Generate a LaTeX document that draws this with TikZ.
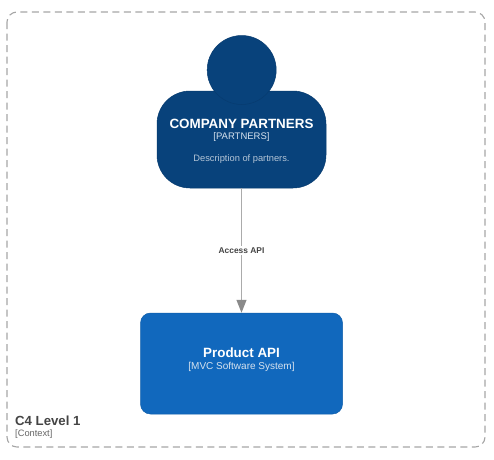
\documentclass[tikz,border=0pt]{standalone}
\usepackage{fontspec}
\setmainfont{Liberation Sans}
\usetikzlibrary{arrows.meta}
\definecolor{persondark}{HTML}{08427B}
\definecolor{personedge}{HTML}{073B6F}
\definecolor{systemblue}{HTML}{1168BD}
\definecolor{systemedge}{HTML}{0F5EAA}
\definecolor{framegray}{HTML}{A6A6A6}
\definecolor{linegray}{HTML}{ABABAB}
\definecolor{arrowgray}{HTML}{8A8A8A}
\definecolor{labelgray}{HTML}{444444}
\definecolor{subwhite}{HTML}{D6E2EE}
\definecolor{descgray}{HTML}{B5C6D7}
\definecolor{framesub}{HTML}{666666}
\definecolor{frametitle}{HTML}{444444}
\tikzset{
  x=1pt,y=-1pt,
  framebox/.style={draw=framegray,line width=1.1pt,dash pattern=on 7pt off 4.5pt,rounded corners=10pt},
  bodyshape/.style={draw=personedge,fill=persondark,line width=.5pt,rounded corners=33pt,minimum width=169pt,minimum height=97pt,inner sep=0pt},
  headshape/.style={circle,draw=personedge,fill=persondark,line width=.5pt,minimum size=69pt,inner sep=0pt},
  sysbox/.style={draw=systemedge,fill=systemblue,line width=.5pt,rounded corners=10pt,minimum width=202pt,minimum height=101pt,inner sep=0pt},
  title/.style={text=white,font=\fontsize{13.4}{16}\selectfont\bfseries,inner sep=0pt},
  subtitle/.style={text=subwhite,font=\fontsize{9.5}{11}\selectfont,inner sep=0pt},
  desc/.style={text=descgray,font=\fontsize{9.3}{11}\selectfont,inner sep=0pt},
  rel/.style={draw=linegray,line width=1.3pt},
  relhead/.style={-{Triangle[length=13pt,width=10pt,color=arrowgray]}},
  rellabel/.style={text=labelgray,fill=white,font=\fontsize{8.4}{10}\selectfont\bfseries,inner sep=1.5pt},
}
\begin{document}
\begin{tikzpicture}
\useasboundingbox (0,0) rectangle (494,459);
\fill[white] (0,0) rectangle (494,459);
\draw[framebox] (7,12) rectangle (485,447);
\node[bodyshape] (body) at (241.5,139.5) {};
\node[headshape] (head) at (241.7,70) {};
\node[sysbox] (api) at (241.5,363.5) {};
\node[title] (ptitle) at (241.5,123.5) {COMPANY PARTNERS};
\node[subtitle] (psub) at (241.5,137.5) {[PARTNERS]};
\node[desc] (pdesc) at (241.5,159) {Description of partners.};
\node[title] (stitle) at (241.5,352.5) {Product API};
\node[subtitle,font=\fontsize{10}{11}\selectfont] (ssub) at (241.5,366.5) {[MVC Software System]};
\draw[rel,relhead] (body.south) -- (api.north) node[pos=.5,rellabel] (rl) {Access API};
\node[anchor=west,text=frametitle,font=\fontsize{13.2}{16}\selectfont\bfseries,inner sep=0pt] (ft) at (15,420.5) {C4 Level 1};
\node[anchor=west,text=framesub,font=\fontsize{9.3}{11}\selectfont,inner sep=0pt] (fs) at (15,434) {[Context]};
\end{tikzpicture}
\end{document}
